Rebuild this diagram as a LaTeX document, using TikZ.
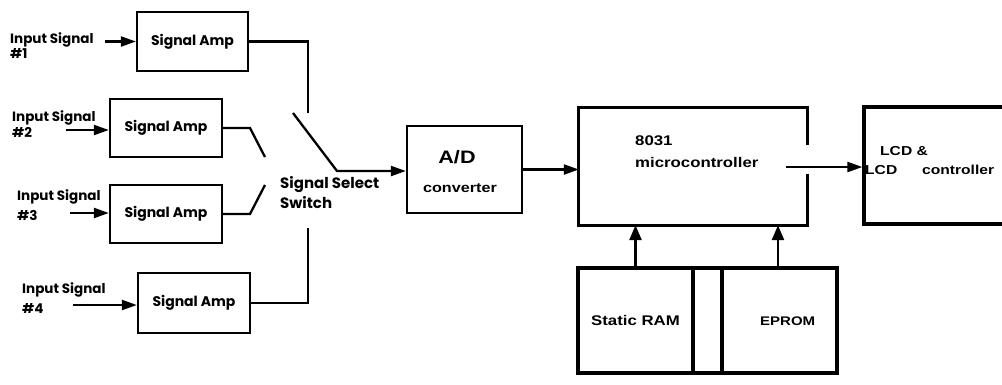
\documentclass[tikz,border=0pt]{standalone}
\usepackage{fontspec}
\setmainfont{Liberation Sans}
\newfontfamily\hv[FakeStretch=1.2]{Liberation Sans}
\newfontfamily\ag{Poppins}
\usetikzlibrary{arrows.meta,calc}

\tikzset{
  conn/.style={line width=2.3pt},
  arr/.style={conn,-{Triangle[length=15pt,width=10pt]}},
  uparr/.style={line width=2.6pt,-{Triangle[length=15pt,width=12pt]}},
  ampbox/.style={draw,line width=2.3pt,minimum width=112pt,minimum height=58pt,
    inner sep=0pt,font=\ag\bfseries\fontsize{14}{16}\selectfont},
  heavybox/.style={draw,line width=3.2pt,inner sep=0pt},
  lbl/.style={anchor=base west,inner sep=0pt,font=\ag\bfseries\fontsize{13.5}{16}\selectfont},
  rtxt/.style={inner sep=0pt,font=\hv\bfseries\fontsize{14}{16}\selectfont},
}

\begin{document}
\begin{tikzpicture}[x=1pt,y=-1pt]
\clip (0,0) rectangle (1002,384);
\fill[white] (0,0) rectangle (1002,384);

% signal amplifiers
\node[ampbox,minimum width=111pt,minimum height=59pt] (amp1) at (192.5,41.5) {Signal Amp};
\node[ampbox] (amp2) at (166,128) {Signal Amp};
\node[ampbox] (amp3) at (166,214) {Signal Amp};
\node[ampbox,minimum height=60pt] (amp4) at (194,303) {Signal Amp};

% input labels
\node[lbl] (in1a) at (10,43) {Input Signal};
\node[lbl] (in1b) at (10,58) {\#1};
\node[lbl] (in2a) at (12,121) {Input Signal};
\node[lbl] (in2b) at (12,137) {\#2};
\node[lbl] (in3a) at (17,200) {Input Signal};
\node[lbl] (in3b) at (17,220) {\#3};
\node[lbl] (in4a) at (22,293) {Input Signal};
\node[lbl] (in4b) at (22,313) {\#4};

% input arrows
\coordinate (t1) at (105,41.5);
\coordinate (t2) at (66,130);
\coordinate (t3) at (70,213);
\coordinate (t4) at (73,305);
\draw[arr] (t1) -- (t1 -| amp1.west);
\draw[arr] (t2) -- (t2 -| amp2.west);
\draw[arr] (t3) -- (t3 -| amp3.west);
\draw[arr] (t4) -- (t4 -| amp4.west);

% A/D converter
\node[draw,line width=2.3pt,minimum width=115pt,minimum height=87pt] (ad) at (464.5,169.5) {};
\node[rtxt,anchor=base,font=\hv\bfseries\fontsize{18}{20}\selectfont] (adt) at (457,163) {A/D};
\node[rtxt,anchor=base,font=\hv\bfseries\fontsize{13.5}{15}\selectfont] (adc) at (460,192) {converter};

% selector switch
\coordinate (s1) at (308,113);
\coordinate (s4) at (308,228);
\coordinate (k2) at (250,128);
\coordinate (s2) at (265,157);
\coordinate (k3) at (250,214);
\coordinate (s3) at (265,185);
\coordinate (pole) at (293,113);
\coordinate (bend) at (337,171);
\draw[conn] (amp1.east) -| (s1);
\draw[conn] (amp4.east) -| (s4);
\draw[conn] (amp2.east) -- (k2) -- (s2);
\draw[conn] (amp3.east) -- (k3) -- (s3);
\draw[arr] (pole) -- (bend) -- (bend -| ad.west);
\node[lbl,font=\ag\bfseries\fontsize{15}{17}\selectfont] (swa) at (280,188) {Signal Select};
\node[lbl,font=\ag\bfseries\fontsize{15}{17}\selectfont] (swb) at (280,208) {Switch};

% microcontroller
\node[minimum width=228pt,minimum height=117pt,inner sep=0pt] (micro) at (693,166.5) {};
\draw[line width=3.2pt] ($(micro.east)+(0,-21.5)$) -- (micro.north east) -- (micro.north west)
  -- (micro.south west) -- (micro.south east) -- ($(micro.east)+(0,7.5)$);
\node[rtxt,anchor=base west] (m1) at (635,145) {8031};
\node[rtxt,anchor=base west] (m2) at (635,167) {microcontroller};
\draw[arr] (ad.east) -- (ad.east -| micro.west);

% display
\node[heavybox,minimum width=180pt,minimum height=117pt] (lcd) at (954,165.5) {};
\node[rtxt,anchor=base west,font=\hv\bfseries\fontsize{13}{15}\selectfont] (l1) at (880,155) {LCD \&};
\node[rtxt,anchor=base west,font=\hv\bfseries\fontsize{13}{15}\selectfont] (l2) at (865,174) {LCD};
\node[rtxt,anchor=base west,font=\hv\bfseries\fontsize{13}{15}\selectfont] (l3) at (922,174) {controller};
\coordinate (mo) at (786,167);
\draw[arr] (mo) -- (mo -| lcd.west);

% memory
\node[heavybox,minimum width=115pt,minimum height=105pt,font=\hv\bfseries\fontsize{14}{16}\selectfont] (ram) at (635.5,320.5) {Static RAM};
\node[heavybox,minimum width=29pt,minimum height=105pt] (mid) at (707.5,320.5) {};
\node[heavybox,minimum width=115pt,minimum height=105pt] (eprom) at (779.5,320.5) {};
\node[rtxt,anchor=base west,font=\hv\bfseries\fontsize{12.5}{15}\selectfont] (ep) at (760,325) {EPROM};
\coordinate (ea) at ($(eprom.north)+(-1.5,0)$);
\draw[uparr] (ram.north) -- (ram.north |- micro.south);
\draw[uparr] (ea) -- (ea |- micro.south);
\end{tikzpicture}
\end{document}
